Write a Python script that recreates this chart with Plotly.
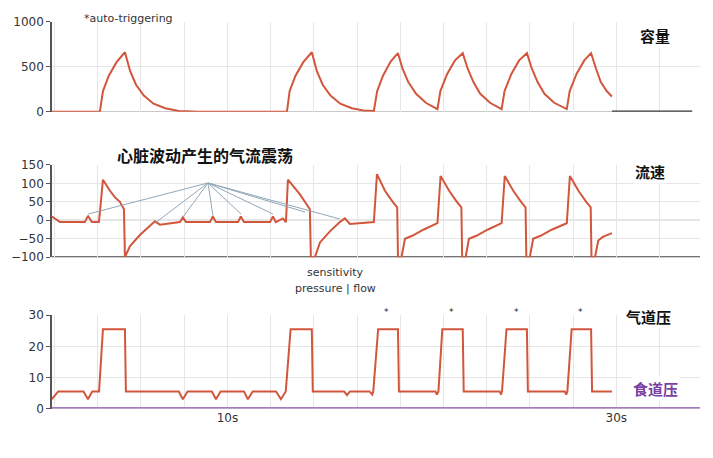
import plotly.graph_objects as go

# ---- data (seconds) ----
vol_t = [0.98,3.44,3.6,3.9,4.3,4.73,5.0,5.3,5.7,6.2,6.8,7.5,8.5,13.06,13.2,13.5,13.9,14.34,14.6,14.9,15.3,15.8,16.4,17.0,17.53,
         17.7,18.0,18.4,18.77,19.0,19.3,19.7,20.2,20.8,20.95,21.3,21.7,22.1,22.35,22.65,23.0,23.5,24.1,
         24.25,24.6,25.0,25.4,25.65,25.95,26.3,26.8,27.45,27.6,27.95,28.35,28.7,28.95,29.2,29.5,29.77]
vol_v = [0,0,230,400,550,660,450,300,180,90,40,10,0,0,230,400,550,660,450,300,180,90,40,15,10,
         230,400,560,650,480,330,200,100,30,230,420,570,650,480,330,200,100,30,
         230,420,570,650,480,330,200,100,30,230,420,570,650,480,330,230,170]
vol_end_t = [29.77,33.9]
vol_end_v = [0,0]

flow_t = [0.98,1.39,2.67,2.83,3.03,3.39,3.44,3.60,3.96,4.22,4.47,4.68,4.73,4.99,5.50,6.02,6.27,6.53,7.04,7.56,7.71,7.87,
          9.10,9.25,9.41,10.54,10.69,10.85,12.19,12.34,12.49,12.85,13.01,13.11,13.73,14.24,14.29,14.5,14.76,15.27,15.78,16.04,16.30,17.43,
          17.53,17.69,18.1,18.5,18.73,18.77,18.95,19.13,19.5,20.1,20.77,
          20.8,20.96,21.4,21.8,22.03,22.07,22.25,22.42,22.8,23.4,24.07,
          24.1,24.26,24.7,25.1,25.33,25.37,25.55,25.72,26.1,26.7,27.42,
          27.45,27.61,28.05,28.45,28.68,28.72,28.9,29.07,29.3,29.77]
flow_v = [10,-5,-5,12,-5,-5,20,110,80,62,50,30,-100,-70,-40,-15,-3,-12,-8,-5,8,-5,
          -5,10,-5,-5,10,-5,-5,10,-5,5,-5,110,70,30,-100,-100,-60,-30,-5,5,-10,-5,
          -5,125,80,50,35,-100,-100,-50,-42,-25,-8,
          -8,120,80,50,35,-100,-100,-50,-42,-25,-8,
          -8,120,80,50,35,-100,-100,-50,-42,-25,-8,
          -8,120,80,50,35,-100,-100,-55,-45,-35]

pres_t = [0.98,1.3,2.6,2.83,3.05,3.4,3.6,4.73,4.78,7.5,7.71,7.95,9.2,9.41,9.65,10.85,11.05,11.3,12.5,12.75,13.0,13.25,14.34,14.39,
          16.0,16.15,16.3,17.3,17.45,17.5,17.75,18.77,18.82,20.7,20.77,20.85,21.05,22.1,22.15,24.0,24.07,24.12,24.35,25.4,25.45,
          27.35,27.42,27.48,27.7,28.7,28.75,29.77]
pres_v = [3,5.5,5.5,3,5.5,5.5,25.5,25.5,5.5,5.5,3,5.5,5.5,3,5.5,5.5,3,5.5,5.5,3,5.5,25.5,25.5,5.5,
          5.5,4.3,5.5,5.5,4.5,5.5,25.5,25.5,5.5,5.5,4.5,5.5,25.5,25.5,5.5,5.5,4.5,5.5,25.5,25.5,5.5,
          5.5,4.5,5.5,25.5,25.5,5.5,5.5]
eso_t = [0.98,34.3]
eso_v = [0,0]
x_labels = {10: "10s", 20: "20s", 30: "30s"}

RED = "#d2563c"
fig = go.Figure()
fig.add_trace(go.Scatter(x=vol_t, y=vol_v, mode="lines", line=dict(color=RED, width=2), xaxis="x", yaxis="y"))
fig.add_trace(go.Scatter(x=vol_end_t, y=vol_end_v, mode="lines", line=dict(color="#333", width=2.5), xaxis="x", yaxis="y"))
fig.add_trace(go.Scatter(x=flow_t, y=flow_v, mode="lines", line=dict(color=RED, width=2), xaxis="x2", yaxis="y2"))
fig.add_trace(go.Scatter(x=eso_t, y=eso_v, mode="lines", line=dict(color="#a77bc4", width=3), xaxis="x3", yaxis="y3"))
fig.add_trace(go.Scatter(x=pres_t, y=pres_v, mode="lines", line=dict(color=RED, width=2), xaxis="x3", yaxis="y3"))

W, H = 697, 442
OFF = 8
def px(x): return (x - OFF) / W
def py(y):
    y = (y - 7.7) / 0.966
    return 1 - (y - OFF) / H

grid = [round(10 + k * (10 / 4.5), 4) for k in range(-4, 11)]
ticktext = [x_labels.get(round(g), "") if abs(g - round(g)) < 1e-3 else "" for g in grid]
xcommon = dict(range=[0.98, 34.3], showgrid=True, gridcolor="#e6e6e6", tickvals=grid, zeroline=False, ticks="",
               domain=[px(52), px(700)], tickfont=dict(family="DejaVu Sans", size=12, color="#333"))
ycommon = dict(showgrid=True, gridcolor="#e6e6e6", zeroline=False, ticks="outside", ticklen=4, tickcolor="#555",
               showline=True, linecolor="#555", linewidth=1.5,
               tickfont=dict(family="DejaVu Sans", size=12, color="#333"))

fig.update_layout(
    width=W, height=H, margin=dict(l=0, r=0, t=0, b=0), paper_bgcolor="white", plot_bgcolor="white",
    showlegend=False,
    xaxis=dict(**xcommon, anchor="y", ticktext=[""]*len(grid)),
    xaxis2=dict(**xcommon, anchor="y2", ticktext=[""]*len(grid)),
    xaxis3=dict(**xcommon, anchor="y3", ticktext=ticktext),
    yaxis=dict(**ycommon, domain=[py(112), py(22)], range=[0, 1000], tickvals=[0, 500, 1000]),
    yaxis2=dict(**ycommon, domain=[py(257), py(165)], range=[-100, 150], tickvals=[-100, -50, 0, 50, 100, 150]),
    yaxis3=dict(**ycommon, domain=[py(408), py(315)], range=[0, 30], tickvals=[0, 10, 20, 30]),
)
for ya, xa, yv, col, x1 in [("y", "x", 0, "#999", 29.77), ("y2", "x2", 0, "#999", 34.3), ("y2", "x2", -100, "#444", 34.3), ("y3", "x3", 0, "#999", 34.3)]:
    fig.add_shape(type="line", xref=xa, yref=ya, x0=0.98, x1=x1, y0=yv, y1=yv,
                  line=dict(color=col, width=2 if yv == -100 else 1), layer="below")

origin = (208, 183)
ends = [(88, 214), (155, 223), (183, 217), (213, 216), (241, 214), (273, 214), (305, 212), (340, 219)]
for ex, ey in ends:
    fig.add_shape(type="line", xref="paper", yref="paper", x0=px(origin[0]), y0=py(origin[1]),
                  x1=px(ex), y1=py(ey), line=dict(color="#8fa8b8", width=1))

def txt(x, y, s, size=12, color="#333", family="DejaVu Sans", bold=False, bg=None):
    fig.add_annotation(x=px(x), y=py(y), xref="paper", yref="paper", text=f"<b>{s}</b>" if bold else s,
                       showarrow=False, font=dict(size=size, color=color, family=family),
                       bgcolor=bg, xanchor="center", yanchor="middle")

txt(128, 19, "*auto-triggering", size=11)
txt(205, 155, "心脏波动产生的气流震荡", size=16, color="#111", family="Noto Sans CJK SC", bold=True, bg="white")
txt(655, 36, "容量", size=15, color="#111", family="Noto Sans CJK SC", bold=True, bg="white")
txt(650, 172, "流速", size=15, color="#111", family="Noto Sans CJK SC", bold=True, bg="white")
txt(648, 316, "气道压", size=15, color="#111", family="Noto Sans CJK SC", bold=True, bg="white")
txt(655, 388, "食道压", size=15, color="#7a3fa0", family="Noto Sans CJK SC", bold=True, bg="white")
txt(335, 272, "sensitivity", size=11)
txt(335, 288, "pressure | flow", size=11)
for x in [386, 451, 516, 580]:
    txt(x, 312, "*", size=9, color="#222")

fig.write_html("out.html")
